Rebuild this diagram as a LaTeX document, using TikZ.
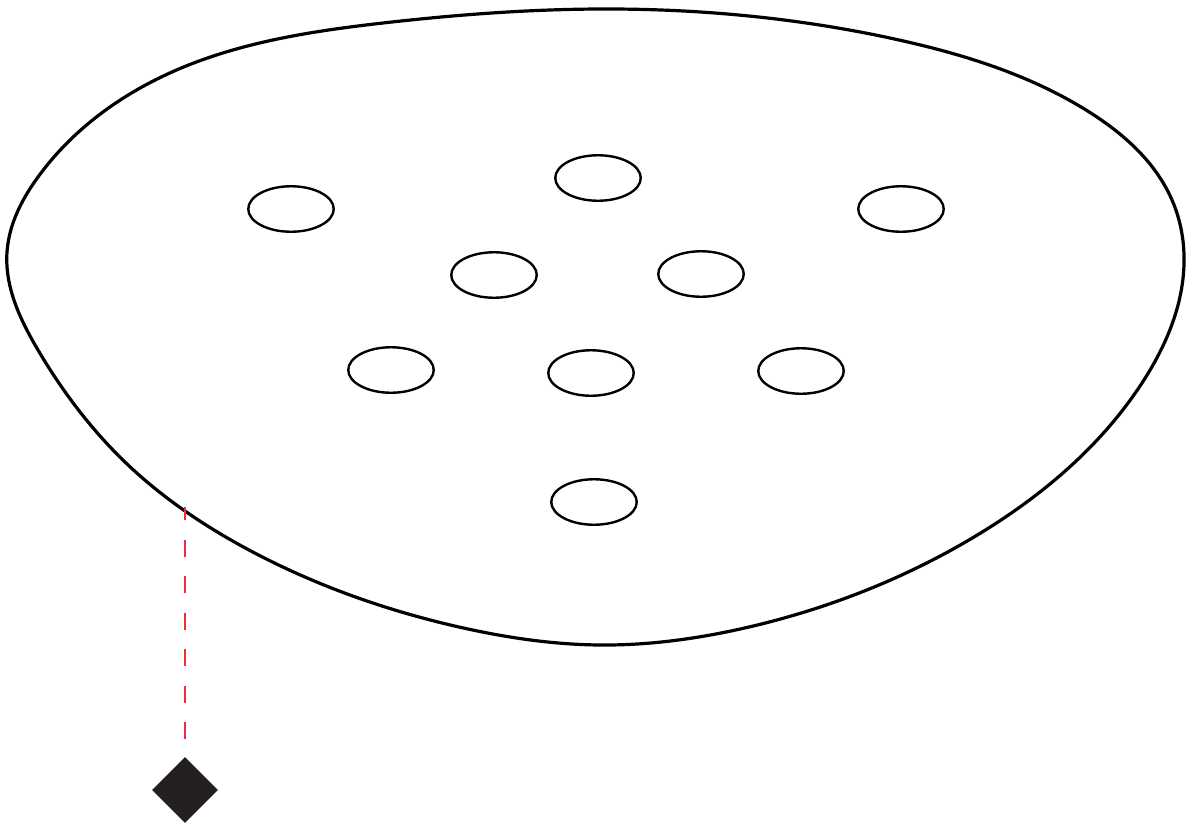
\documentclass[tikz,border=0pt]{standalone}
\usetikzlibrary{shapes.geometric,hobby}
\definecolor{ink}{HTML}{000000}
\definecolor{dark}{HTML}{231F20}
\definecolor{guide}{HTML}{EE2B36}
\tikzset{
  hole/.style={ellipse, draw=ink, line width=2.4pt, minimum width=85.5pt, minimum height=45.5pt, inner sep=0pt},
  marker/.style={diamond, fill=dark, minimum width=66pt, minimum height=66pt, inner sep=0pt},
  outline/.style={draw=ink, line width=3.2pt},
  guideline/.style={draw=guide, line width=1.5pt, dash pattern=on 17pt off 19.5pt, dash phase=4pt}
}
\begin{document}
\begin{tikzpicture}[x=1pt,y=-1pt]
\useasboundingbox (0,0) rectangle (1186,825);
\fill[white] (0,0) rectangle (1186,825);
% outline
\draw[outline, use Hobby shortcut, closed=true]
  (600,9) .. (899,40) .. (1086,110) .. (1172,200) .. (1184,255)
  .. (1142,383) .. (974,537) .. (749,627) .. (600,645) .. (459,627)
  .. (249,550) .. (126,463) .. (38,350) .. (7,252) .. (38,177)
  .. (172,72) .. (383,23);
% holes
\node[hole] (h1) at (291,209) {};
\node[hole] (h2) at (598,178) {};
\node[hole] (h3) at (901,209) {};
\node[hole] (h4) at (494,275) {};
\node[hole] (h5) at (701,274) {};
\node[hole] (h6) at (391,370) {};
\node[hole] (h7) at (591,373) {};
\node[hole] (h8) at (801,371) {};
\node[hole] (h9) at (594,502) {};
% marker and guide
\coordinate (edge) at (185,507);
\node[marker] (mk) at (185,790) {};
\draw[guideline, shorten >=12pt] (edge) -- (mk.north);
\end{tikzpicture}
\end{document}
